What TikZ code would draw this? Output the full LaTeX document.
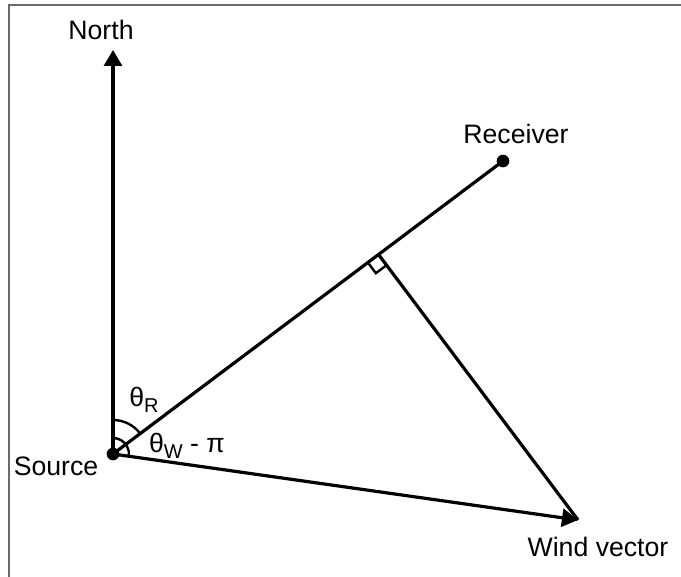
\documentclass[tikz,border=0pt]{standalone}
\usepackage{fontspec}
\setmainfont{Liberation Sans}
\usetikzlibrary{calc,arrows.meta}
\definecolor{framegray}{HTML}{6a6a6a}
\newcommand{\thsub}[2]{#1\raisebox{-0.4ex}{\fontsize{15}{15}\selectfont #2}}

\begin{document}
\begin{tikzpicture}[x=0.75pt,y=-0.75pt,line width=2.4pt,
  tip/.style={-{Triangle[length=12pt,width=13.5pt]}},
  dot/.style={circle,fill,inner sep=0pt,minimum size=9.5pt},
  lab/.style={font=\fontsize{20}{24}\selectfont,inner sep=0pt}]
  \useasboundingbox (0,0) rectangle (681,577);
  \draw[framegray,line width=1.5pt] (9,577) -- (9,5) -- (681,5);
  \node[dot] (src) at (113,454) {};
  \node[dot] (rec) at (503,161) {};
  \coordinate (north) at (113,50);
  \coordinate (wind) at (578,520);
  \coordinate (foot) at ($(src.center)!(wind)!(rec.center)$);
  \draw[tip] (src.center) -- (north);
  \draw (src.center) -- (rec.center);
  \draw[tip] (src.center) -- (wind);
  \draw (foot) -- (wind);
  \coordinate (ra) at ($(foot)!10pt!(src.center)$);
  \coordinate (rb) at ($(foot)!10pt!(wind)$);
  \draw[line width=1.8pt] (ra) -- ($(ra)+(rb)-(foot)$) -- (rb);
  \draw[line width=1.8pt] (src.center) ++(90:25.5pt) arc[start angle=90,end angle=36.9,radius=25.5pt];
  \draw[line width=1.8pt] (src.center) ++(90:12pt) arc[start angle=90,end angle=-8.1,radius=12pt];
  \node[lab] (northlab) at (101,30) {North};
  \node[lab] (reclab) at (516,134) {Receiver};
  \node[lab] (windlab) at (598,547) {Wind vector};
  \node[lab] (srclab) at (56,466) {Source};
  \node[lab] (thr) at (144,400) {\thsub{θ}{R}};
  \node[lab] (thw) at (187,446) {\thsub{θ}{W} - π};
\end{tikzpicture}
\end{document}
